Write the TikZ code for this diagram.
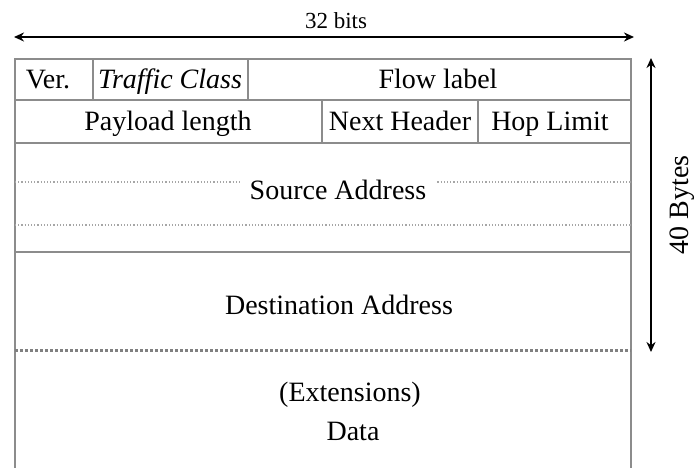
\documentclass[tikz,border=0pt]{standalone}
\usepackage{fontspec}
\setmainfont{Liberation Serif}
\usetikzlibrary{arrows.meta}

\tikzset{
	field/.style={font=\fontsize{28}{31}\selectfont, inner sep=0pt, anchor=base},
	grid/.style={draw=black!45, line width=1.3pt},
	sep/.style={draw=black!35, dotted, line width=1.2pt},
	dim/.style={{Stealth[length=10pt,width=9pt]}-{Stealth[length=10pt,width=9pt]}, line width=1.9pt},
}

\begin{document}
\begin{tikzpicture}[x=1pt,y=-1pt]
	\useasboundingbox (0,0) rectangle (697,468);

	% frame and rows
	\draw[grid] (15,468) -- (15,59) -- (631,59) -- (631,468);
	\draw[grid] (15,100) -- (631,100);
	\draw[grid, line width=2pt] (15,143) -- (631,143);
	\draw[grid] (15,252) -- (631,252);
	\draw[grid] (93,59) -- (93,100);
	\draw[grid] (248,59) -- (248,100);
	\draw[grid] (322,100) -- (322,143);
	\draw[grid] (478,100) -- (478,143);

	% address separators
	\draw[sep] (15,182) -- (631,182);
	\draw[sep] (15,225) -- (631,225);
	\draw[sep, draw=black!50, line width=3pt] (15,350) -- (631,350);

	% fields
	\node[field] (ver) at (48,89) {Ver.};
	\node[field] (tclass) at (170,89) {\textit{Traffic Class}};
	\node[field] (flow) at (438,89) {Flow label};
	\node[field] (payload) at (168,131) {Payload length};
	\node[field] (nexthdr) at (400,131) {Next Header};
	\node[field] (hoplim) at (550,131) {Hop Limit};
	\node[field, fill=white, inner xsep=9pt, inner ysep=3pt] (src) at (338,200) {Source Address};
	\node[field] (dst) at (339,314) {Destination Address};
	\node[field] (ext) at (350,401) {(Extensions)};
	\node[field] (data) at (353,440) {Data};

	% dimensions
	\coordinate (wl) at (14,37);
	\coordinate (wr) at (634,37);
	\draw[dim] (wl) -- (wr);
	\node[field, font=\fontsize{23}{26}\selectfont] (width) at (336,29) {32 bits};

	\coordinate (ht) at (651,58);
	\coordinate (hb) at (651,352);
	\draw[dim] (ht) -- (hb);
	\node[field, anchor=center, rotate=90] (height) at (682,205) {40 Bytes};

\end{tikzpicture}
\end{document}
